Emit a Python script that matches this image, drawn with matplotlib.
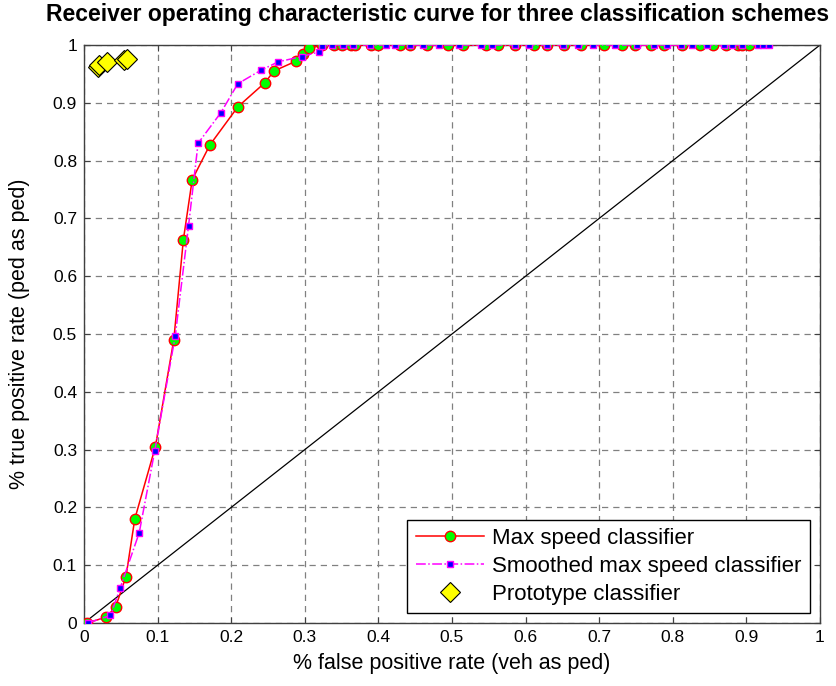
import matplotlib
matplotlib.use("Agg")
import matplotlib.pyplot as plt
import numpy as np

plt.rcParams['font.family'] = ['Liberation Sans', 'DejaVu Sans']

# Max speed classifier
max_fpr = [0.004, 0.030, 0.043, 0.057, 0.069, 0.097, 0.122, 0.135, 0.147, 0.171,
           0.209, 0.246, 0.258, 0.288, 0.298, 0.306, 0.324, 0.340, 0.351, 0.363,
           0.368, 0.390, 0.399, 0.429, 0.443, 0.466, 0.494, 0.515, 0.546, 0.562,
           0.586, 0.611, 0.629, 0.652, 0.675, 0.706, 0.731, 0.749, 0.770, 0.788,
           0.812, 0.837, 0.855, 0.872, 0.889, 0.894, 0.904]
max_tpr = [0.000, 0.010, 0.028, 0.080, 0.180, 0.305, 0.490, 0.663, 0.767, 0.827,
           0.893, 0.935, 0.955, 0.972, 0.985, 0.994, 1.000, 1.000, 1.000, 1.000,
           1.000, 1.000, 1.000, 1.000, 1.000, 1.000, 1.000, 1.000, 1.000, 1.000,
           1.000, 1.000, 1.000, 1.000, 1.000, 1.000, 1.000, 1.000, 1.000, 1.000,
           1.000, 1.000, 1.000, 1.000, 1.000, 1.000, 1.000]

# Smoothed max speed classifier
sm_fpr = [0.005, 0.036, 0.049, 0.075, 0.096, 0.124, 0.142, 0.155, 0.186, 0.209,
          0.240, 0.264, 0.296, 0.319, 0.324, 0.337, 0.352, 0.366, 0.388, 0.410,
          0.423, 0.443, 0.461, 0.483, 0.509, 0.540, 0.554, 0.586, 0.604, 0.629,
          0.651, 0.671, 0.692, 0.721, 0.751, 0.774, 0.792, 0.811, 0.826, 0.846,
          0.869, 0.880, 0.894, 0.916, 0.923, 0.931]
sm_tpr = [0.000, 0.013, 0.060, 0.156, 0.297, 0.497, 0.687, 0.830, 0.883, 0.933,
          0.956, 0.971, 0.980, 0.988, 0.998, 1.000, 1.000, 1.000, 1.000, 1.000,
          1.000, 1.000, 1.000, 1.000, 1.000, 1.000, 1.000, 1.000, 1.000, 1.000,
          1.000, 1.000, 1.000, 1.000, 1.000, 1.000, 1.000, 1.000, 1.000, 1.000,
          1.000, 1.000, 1.000, 1.000, 1.000, 1.000]

# Prototype classifier
proto_fpr = [0.019, 0.020, 0.031, 0.054, 0.059]
proto_tpr = [0.962, 0.965, 0.970, 0.974, 0.976]

ticks = [0, 0.1, 0.2, 0.3, 0.4, 0.5, 0.6, 0.7, 0.8, 0.9, 1]
tick_labels = ['0', '0.1', '0.2', '0.3', '0.4', '0.5', '0.6', '0.7', '0.8', '0.9', '1']

fig = plt.figure(figsize=(8.36, 6.86), dpi=100)
ax = fig.add_axes([84/836, 1-623/686, 736/836, 578/686])

ax.plot([0, 1], [0, 1], color='black', lw=0.9, zorder=2)
ax.plot(max_fpr, max_tpr, color='red', lw=1.1, marker='o', ms=7.5,
        mfc='#00ff00', mec='red', mew=1.0, label='Max speed classifier', zorder=3)
ax.plot(sm_fpr, sm_tpr, color='magenta', lw=1.1, ls='-.', marker='s', ms=4,
        mfc='blue', mec='magenta', mew=1.0, label='Smoothed max speed classifier', zorder=4)
ax.plot(proto_fpr, proto_tpr, ls='none', marker='D', ms=10, mfc='yellow', mec='black',
        mew=0.8, label='Prototype classifier', zorder=5)

ax.set_xlim(0, 1)
ax.set_ylim(0, 1)
ax.set_xticks(ticks)
ax.set_xticklabels(tick_labels)
ax.set_yticks(ticks)
ax.set_yticklabels(tick_labels)
ax.tick_params(direction='in', length=4, labelsize=12.5, top=True, right=True,
               color='#404040', pad=5)
ax.grid(True, color='#808080', ls=(0, (5, 4)), lw=0.9)
for s in ax.spines.values():
    s.set_color('#404040')
    s.set_linewidth(1.0)

ax.set_xlabel('% false positive rate (veh as ped)', fontsize=15.5)
ax.set_ylabel('% true positive rate (ped as ped)', fontsize=15.5)
ax.xaxis.set_label_coords(0.5, -(653 - 623) / 578)
ax.yaxis.set_label_coords(-(84 - 30) / 736, 0.5)
fig.text(438/836, 1-15/686, 'Receiver operating characteristic curve for three classification schemes',
         ha='center', va='center', fontsize=16.5, fontweight='bold')

leg = ax.legend(loc='lower right', fontsize=16, frameon=True, fancybox=False,
                edgecolor='black', framealpha=1, borderaxespad=0.45, handlelength=3.1,
                handletextpad=0.35, labelspacing=0.3, borderpad=0.38)
leg.get_frame().set_linewidth(1.0)

fig.savefig('out.png', dpi=100)
